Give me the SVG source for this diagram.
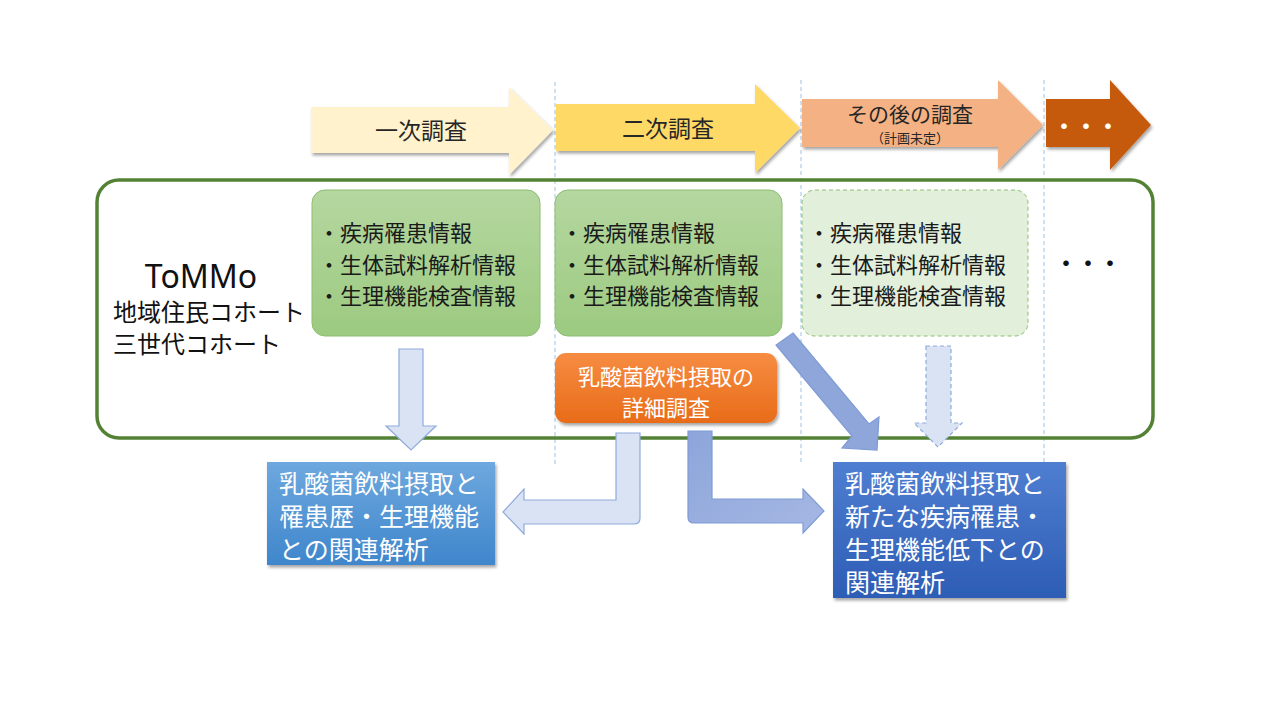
<svg xmlns="http://www.w3.org/2000/svg" width="1280" height="720" viewBox="0 0 1280 720">
<defs>
<style>
.jp{font-family:"Noto Sans CJK JP","Noto Sans",sans-serif;}
.hd{font-size:23px;fill:#262626;}
.li{font-size:22px;fill:#1a1a1a;}
.wt{fill:#ffffff;}
.rs{font-size:25px;fill:#ffffff;}
.vl{stroke:#9DC3E6;stroke-width:1;stroke-dasharray:4 3;fill:none;}
.lt{fill:#DAE3F3;stroke:#8FAADC;stroke-width:1.2;}
.dk{fill:url(#gDk);stroke:#7F9BD6;stroke-width:1.2;}
</style>
<filter id="sh" x="-10%" y="-10%" width="125%" height="130%">
<feDropShadow dx="1.5" dy="2.5" stdDeviation="1.8" flood-color="#000" flood-opacity="0.35"/>
</filter>
<linearGradient id="gGr" x1="0" y1="0" x2="0" y2="1"><stop offset="0" stop-color="#B5D7A0"/><stop offset="1" stop-color="#9CCA80"/></linearGradient>
<linearGradient id="gOr" x1="0" y1="0" x2="0" y2="1"><stop offset="0" stop-color="#F68C42"/><stop offset="1" stop-color="#E86C19"/></linearGradient>
<linearGradient id="gB1" x1="0" y1="0" x2="0" y2="1"><stop offset="0" stop-color="#6EA8DE"/><stop offset="1" stop-color="#3F86CC"/></linearGradient>
<linearGradient id="gB2" x1="0" y1="0" x2="0" y2="1"><stop offset="0" stop-color="#4F7ED1"/><stop offset="1" stop-color="#2D5DB5"/></linearGradient>
<linearGradient id="gDk" x1="0" y1="0" x2="1" y2="1"><stop offset="0" stop-color="#8CA5DA"/><stop offset="1" stop-color="#A6B8E4"/></linearGradient>
</defs>
<rect width="1280" height="720" fill="#ffffff"/>

<g id="guides">
<line class="vl" x1="555" y1="82" x2="555" y2="467"/>
<line class="vl" x1="801" y1="80" x2="801" y2="463"/>
<line class="vl" x1="1044" y1="80" x2="1044" y2="470"/>
</g>

<g id="phases">
<g id="phase1">
<polygon points="311,107 509,107 509,87 553,130 509,175 509,153 311,153" fill="#FFF2CC" filter="url(#sh)"/>
<text class="jp hd" x="421" y="139" text-anchor="middle">一次調査</text>
</g>
<g id="phase2">
<polygon points="556,104 755,104 755,84 800,128 755,173 755,151 556,151" fill="#FFD966" filter="url(#sh)"/>
<text class="jp hd" x="668" y="137" text-anchor="middle">二次調査</text>
</g>
<g id="phase3">
<polygon points="802,99 998,99 998,80 1043,125 998,170 998,147 802,147" fill="#F4B183" filter="url(#sh)"/>
<text class="jp" x="910" y="122" text-anchor="middle" font-size="21" fill="#262626">その後の調査</text>
<text class="jp" x="910" y="143" text-anchor="middle" font-size="13" fill="#262626">（計画未定）</text>
</g>
<g id="phase4">
<polygon points="1046,99 1110,99 1110,80 1151,125 1110,170 1110,147 1046,147" fill="#C55A11" filter="url(#sh)"/>
<text class="jp wt" x="1086" y="134" text-anchor="middle" font-size="22" font-weight="bold">・・・</text>
</g>
</g>

<g id="cohort">
<rect x="97" y="180" width="1056" height="258" rx="22" fill="none" stroke="#548235" stroke-width="3.5"/>
<text x="201" y="288" text-anchor="middle" font-family="'Noto Sans',sans-serif" font-size="32" fill="#111">ToMMo</text>
<text class="jp" x="113" y="321" font-size="24" fill="#111">地域住民コホート</text>
<text class="jp" x="113" y="353" font-size="24" fill="#111">三世代コホート</text>
<text class="jp" x="1088" y="271" text-anchor="middle" font-size="22" font-weight="bold" fill="#111">・・・</text>
</g>

<g id="info1">
<rect x="312" y="190" width="228" height="146" rx="13" fill="url(#gGr)" stroke="#8DBE72" stroke-width="1"/>
<text class="jp li" x="318" y="241">・疾病罹患情報</text>
<text class="jp li" x="318" y="273">・生体試料解析情報</text>
<text class="jp li" x="318" y="304">・生理機能検査情報</text>
</g>
<g id="info2">
<rect x="555" y="190" width="227" height="146" rx="13" fill="url(#gGr)" stroke="#8DBE72" stroke-width="1"/>
<text class="jp li" x="561" y="241">・疾病罹患情報</text>
<text class="jp li" x="561" y="273">・生体試料解析情報</text>
<text class="jp li" x="561" y="304">・生理機能検査情報</text>
</g>
<g id="info3">
<rect x="802" y="190" width="226" height="146" rx="13" fill="#E2EFDA" stroke="#8DBE72" stroke-width="1" stroke-dasharray="4 3"/>
<text class="jp li" x="808" y="241">・疾病罹患情報</text>
<text class="jp li" x="808" y="273">・生体試料解析情報</text>
<text class="jp li" x="808" y="304">・生理機能検査情報</text>
</g>

<g id="detail">
<rect x="555" y="353" width="222" height="70" rx="11" fill="url(#gOr)" filter="url(#sh)"/>
<text class="jp wt" x="666" y="385" text-anchor="middle" font-size="22">乳酸菌飲料摂取の</text>
<text class="jp wt" x="666" y="416" text-anchor="middle" font-size="22">詳細調査</text>
</g>

<g id="connectors">
<polygon class="lt" points="399,349 423,349 423,426 436,426 411,450 386,426 399,426"/>
<path class="lt" d="M616,433 H640 V518 Q640,524 634,524 H524 V534 L503,512 L524,489 V500 H616 Z"/>
<path class="dk" d="M688,431 H712 V499 H803 V489 L824,511 L803,533 V523 H694 Q688,523 688,517 Z"/>
<polygon points="793,333 869,424 879,417 877,450 842,448 852,436 776,345" fill="#8EA6DA" stroke="#7F9BD6" stroke-width="1.2"/>
<polygon points="926,346 951,346 951,423 962,423 938,447 914,423 926,423" fill="#DAE3F3" stroke="#8FAADC" stroke-width="1.2" stroke-dasharray="4 3"/>
</g>

<g id="result1">
<rect x="267" y="462" width="228" height="103" fill="url(#gB1)" filter="url(#sh)"/>
<text class="jp rs" x="279" y="493">乳酸菌飲料摂取と</text>
<text class="jp rs" x="279" y="526">罹患歴・生理機能</text>
<text class="jp rs" x="279" y="559">との関連解析</text>
</g>
<g id="result2">
<rect x="833" y="462" width="233" height="136" fill="url(#gB2)" filter="url(#sh)"/>
<text class="jp rs" x="845" y="493">乳酸菌飲料摂取と</text>
<text class="jp rs" x="845" y="526">新たな疾病罹患・</text>
<text class="jp rs" x="845" y="559">生理機能低下との</text>
<text class="jp rs" x="845" y="592">関連解析</text>
</g>
</svg>
